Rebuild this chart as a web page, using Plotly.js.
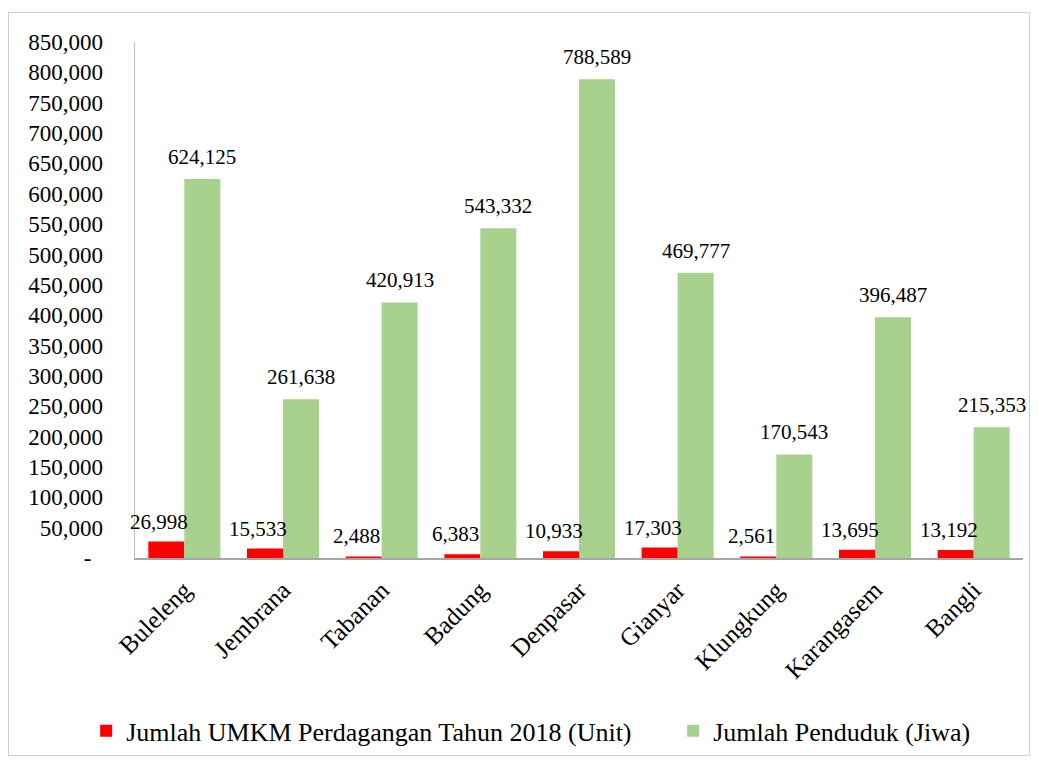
<!DOCTYPE html>
<html>
<head>
<meta charset="utf-8">
<script src="https://cdn.plot.ly/plotly-3.0.1.min.js"></script>
<style>
html,body{margin:0;padding:0;background:#fff;}
#wrap{position:relative;width:1038px;height:760px;}
#chart{width:1038px;height:760px;}
#frame{position:absolute;left:8px;top:12px;width:1022px;height:744px;border:1px solid #d0d0d0;pointer-events:none;box-sizing:border-box;}
</style>
</head>
<body>
<div id="wrap"><div id="chart"></div><div id="frame"></div></div>
<script>
const categories = ["Buleleng","Jembrana","Tabanan","Badung","Denpasar","Gianyar","Klungkung","Karangasem","Bangli"];
const umkm = [26998,15533,2488,6383,10933,17303,2561,13695,13192];
const penduduk = [624125,261638,420913,543332,788589,469777,170543,396487,215353];
const seriesNames = ["Jumlah UMKM Perdagangan Tahun 2018 (Unit)","Jumlah Penduduk (Jiwa)"];
const tickVals = [0,50000,100000,150000,200000,250000,300000,350000,400000,450000,500000,550000,600000,650000,700000,750000,800000,850000];
const tickText = tickVals.map(v => v === 0 ? "-\u00a0\u00a0" : v.toLocaleString("en-US"));

const fam = "Liberation Serif, Times New Roman, serif";
const labelFont = {family: fam, size: 21, color: "#000"};
const tickFont = {family: fam, size: 23, color: "#000"};
const catFont = {family: fam, size: 25, color: "#000"};
const legFont = {family: fam, size: 26, color: "#000"};

const traces = [
  {type:"bar", name:seriesNames[0], x:categories, y:umkm, marker:{color:"#ff0000"}, cliponaxis:false, legend:"legend"},
  {type:"bar", name:seriesNames[1], x:categories, y:penduduk, marker:{color:"#a9d18e"}, cliponaxis:false, legend:"legend2"}
];

const fmt = v => v.toLocaleString("en-US");
const annotations = [];
categories.forEach((c, i) => {
  annotations.push({x:c, y:umkm[i], xref:"x", yref:"y", text:fmt(umkm[i]), showarrow:false,
    xanchor:"center", yanchor:"bottom", xshift:-25, yshift:6, font:labelFont});
  annotations.push({x:c, y:penduduk[i], xref:"x", yref:"y", text:fmt(penduduk[i]), showarrow:false,
    xanchor:"center", yanchor:"bottom", xshift:18, yshift:8, font:labelFont});
});

const legendBase = {orientation:"h", xanchor:"left", y:-0.335, yanchor:"middle", font:legFont, itemwidth:30};

const layout = {
  width:1038, height:760,
  margin:{l:135, r:15, t:42, b:202, autoexpand:false},
  paper_bgcolor:"rgba(0,0,0,0)", plot_bgcolor:"rgba(0,0,0,0)",
  font:labelFont,
  barmode:"group", bargap:0.27, bargroupgap:0,
  showlegend:true,
  legend:Object.assign({}, legendBase, {x:-0.055}),
  legend2:Object.assign({}, legendBase, {x:0.606}),
  annotations:annotations,
  xaxis:{automargin:false, range:[-0.5, categories.length - 0.5], tickangle:-45, showline:true, linecolor:"#a6a6a6", linewidth:1.5, ticks:"", ticklabelstandoff:6, tickfont:catFont, showgrid:false, zeroline:false},
  yaxis:{automargin:false, range:[0,850000], tickvals:tickVals, ticktext:tickText, showline:true, linecolor:"#bfbfbf", linewidth:1.5,
         ticks:"", ticklabelstandoff:26, tickfont:tickFont, showgrid:false, zeroline:false}
};

Plotly.newPlot("chart", traces, layout, {displayModeBar:false, staticPlot:true});
</script>
</body>
</html>
